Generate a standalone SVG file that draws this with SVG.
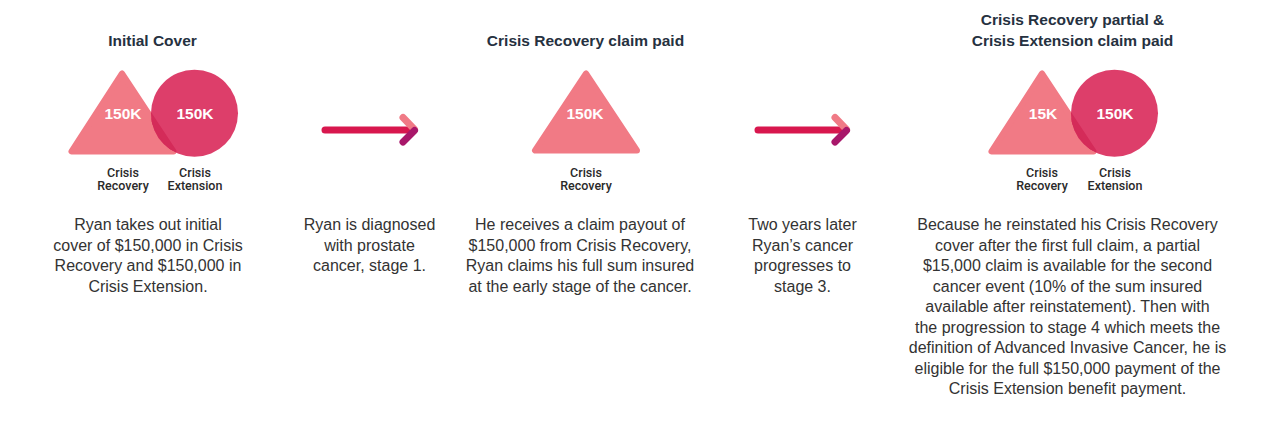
<svg xmlns="http://www.w3.org/2000/svg" width="1280" height="430" viewBox="0 0 1280 430">
<defs>
<style>
.title{font-family:"Liberation Sans",Arial,sans-serif;font-weight:bold;font-size:15.5px;fill:#263140;text-anchor:middle}
.val{font-family:"Liberation Sans",Arial,sans-serif;font-weight:bold;font-size:15.5px;fill:#ffffff;text-anchor:middle}
.lbl{font-family:Roboto,"Liberation Sans",Arial,sans-serif;font-weight:500;font-size:12.5px;fill:#2a2a2a;text-anchor:middle}
.body{font-family:"Liberation Sans",Arial,sans-serif;font-size:16px;fill:#333333;text-anchor:middle}
.tri{fill:#f17a85;stroke:#f17a85;stroke-width:6;stroke-linejoin:round}
.triov{fill:#d42b59;stroke:#d42b59;stroke-width:6;stroke-linejoin:round}
.circ{fill:#dd3e6a}
.aline{stroke:#d8174e;stroke-width:7;stroke-linecap:round;fill:none}
.aup{stroke:#f07a86;stroke-width:7;stroke-linecap:round;fill:none}
.adown{stroke:#a8176a;stroke-width:7;stroke-linecap:round;fill:none}
</style>
<clipPath id="c1"><circle cx="194.5" cy="113.3" r="43.5"/></clipPath>
<clipPath id="c3"><circle cx="1114.5" cy="113.3" r="43.5"/></clipPath>
</defs>

<g id="stage1">
<text class="title" x="152.5" y="46">Initial Cover</text>
<polygon class="tri" points="122,73.5 71.5,151.5 173.5,151.5"/>
<circle class="circ" cx="194.5" cy="113.3" r="43.5"/>
<g clip-path="url(#c1)"><polygon class="triov" points="122,73.5 71.5,151.5 173.5,151.5"/></g>
<text class="val" x="123" y="119">150K</text>
<text class="val" x="195" y="119">150K</text>
<text class="lbl" x="123" y="176.5">Crisis</text>
<text class="lbl" x="123" y="190">Recovery</text>
<text class="lbl" x="195" y="176.5">Crisis</text>
<text class="lbl" x="195" y="190">Extension</text>
<text class="body" y="230"><tspan x="148">Ryan takes out initial</tspan><tspan x="148" dy="20.6">cover of $150,000 in Crisis</tspan><tspan x="148" dy="20.6">Recovery and $150,000 in</tspan><tspan x="148" dy="20.6">Crisis Extension.</tspan></text>
</g>

<g id="event1">
<text class="body" y="230"><tspan x="369.5">Ryan is diagnosed</tspan><tspan x="369.5" dy="20.6">with prostate</tspan><tspan x="369.5" dy="20.6">cancer, stage 1.</tspan></text>
</g>

<g id="stage2">
<text class="title" x="585.5" y="46">Crisis Recovery claim paid</text>
<polygon class="tri" points="586,73.5 535,150.5 637,150.5"/>
<text class="val" x="585" y="119">150K</text>
<text class="lbl" x="586" y="176.5">Crisis</text>
<text class="lbl" x="586" y="190">Recovery</text>
<text class="body" y="230"><tspan x="580">He receives a claim payout of</tspan><tspan x="580" dy="20.6">$150,000 from Crisis Recovery,</tspan><tspan x="580" dy="20.6">Ryan claims his full sum insured</tspan><tspan x="580" dy="20.6">at the early stage of the cancer.</tspan></text>
</g>

<g id="event2">
<text class="body" y="230"><tspan x="802.5">Two years later</tspan><tspan x="802.5" dy="20.6">Ryan’s cancer</tspan><tspan x="802.5" dy="20.6">progresses to</tspan><tspan x="802.5" dy="20.6">stage 3.</tspan></text>
</g>

<g id="stage3">
<text class="title" x="1072.5" y="25">Crisis Recovery partial &amp;</text>
<text class="title" x="1072.5" y="45.5">Crisis Extension claim paid</text>
<polygon class="tri" points="1042,73.5 991.5,151.5 1093.5,151.5"/>
<circle class="circ" cx="1114.5" cy="113.3" r="43.5"/>
<g clip-path="url(#c3)"><polygon class="triov" points="1042,73.5 991.5,151.5 1093.5,151.5"/></g>
<text class="val" x="1043" y="119">15K</text>
<text class="val" x="1115" y="119">150K</text>
<text class="lbl" x="1042" y="176.5">Crisis</text>
<text class="lbl" x="1042" y="190">Recovery</text>
<text class="lbl" x="1115" y="176.5">Crisis</text>
<text class="lbl" x="1115" y="190">Extension</text>
<text class="body" y="230"><tspan x="1067.5">Because he reinstated his Crisis Recovery</tspan><tspan x="1067.5" dy="20.5">cover after the first full claim, a partial</tspan><tspan x="1067.5" dy="20.5">$15,000 claim is available for the second</tspan><tspan x="1067.5" dy="20.5">cancer event (10% of the sum insured</tspan><tspan x="1067.5" dy="20.5">available after reinstatement). Then with</tspan><tspan x="1067.5" dy="20.5">the progression to stage 4 which meets the</tspan><tspan x="1067.5" dy="20.5">definition of Advanced Invasive Cancer, he is</tspan><tspan x="1067.5" dy="20.5">eligible for the full $150,000 payment of the</tspan><tspan x="1067.5" dy="20.5">Crisis Extension benefit payment.</tspan></text>
</g>

<g id="connectors">
<line class="aline" x1="325" y1="130" x2="413" y2="130"/>
<line class="aup" x1="403" y1="117.5" x2="414.5" y2="129.5"/>
<line class="adown" x1="414.5" y1="130.5" x2="403" y2="142"/>
<line class="aline" x1="758" y1="130" x2="845" y2="130"/>
<line class="aup" x1="835" y1="117.5" x2="846.5" y2="129.5"/>
<line class="adown" x1="846.5" y1="130.5" x2="835" y2="142"/>
</g>
</svg>
